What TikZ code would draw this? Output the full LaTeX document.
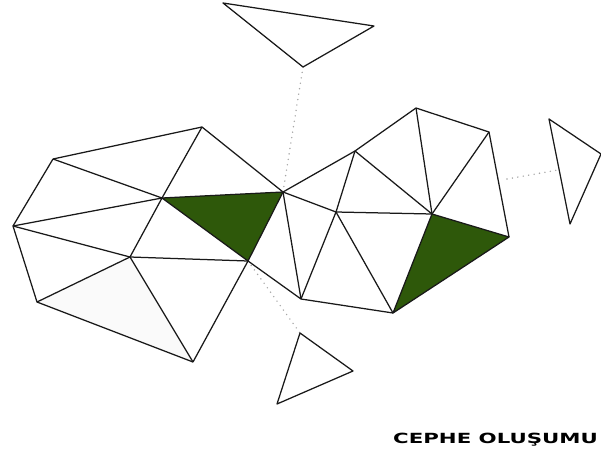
\documentclass[tikz,border=0pt]{standalone}
\usepackage{fontspec}
\usepackage{graphicx}
\newfontfamily\titlefont{DejaVu Sans}
\definecolor{leafgreen}{RGB}{46,88,10}
\begin{document}
\begin{tikzpicture}[x=1pt,y=-1pt,
  edge/.style={draw=black!90,line width=1.25pt,line join=round},
  greenface/.style={fill=leafgreen,draw=black!90,line width=1.25pt,line join=round},
  dotline/.style={draw=black!35,line width=1.6pt,line cap=round,dash pattern=on 0pt off 5.5pt},
  floattri/.style={draw=black!90,line width=1.25pt,line join=round,fill=white}]
\useasboundingbox[fill=white] (0,0) rectangle (601,455);
% left cluster
\coordinate (A) at (202,127);
\coordinate (B) at (53,159);
\coordinate (C) at (13,226);
\coordinate (D) at (37,302);
\coordinate (E) at (162,198);
\coordinate (F) at (283,192);
\coordinate (G) at (130,257);
\coordinate (H) at (248,261);
\coordinate (I) at (193,362);
% right cluster
\coordinate (J) at (301,299);
\coordinate (K) at (355,151);
\coordinate (L) at (416,108);
\coordinate (M) at (489,132);
\coordinate (N) at (336,212);
\coordinate (O) at (432,214);
\coordinate (P) at (509,237);
\coordinate (Q) at (393,313);
% floating triangles
\coordinate (T1) at (223,3);
\coordinate (T2) at (374,26);
\coordinate (T3) at (303,67);
\coordinate (R1) at (549,119);
\coordinate (R2) at (601,154);
\coordinate (R3) at (570,224);
\coordinate (S1) at (300,333);
\coordinate (S2) at (353,371);
\coordinate (S3) at (277,404);
\coordinate (dm) at (507,179);
\coordinate (dr) at (558,170);
% light face
\fill[black!2] (D) -- (G) -- (I) -- cycle;
% dotted links
\draw[dotline] (T3) -- (F);
\draw[dotline] (H) -- (S1);
\draw[dotline] (dm) -- (dr);
% green faces
\path[greenface] (E) -- (F) -- (H) -- cycle;
\path[greenface] (O) -- (P) -- (Q) -- cycle;
% edges left
\draw[edge] (B) -- (A) -- (F);
\draw[edge] (A) -- (E);
\draw[edge] (B) -- (E);
\draw[edge] (B) -- (C) -- (D) -- (I);
\draw[edge] (C) -- (E);
\draw[edge] (C) -- (G);
\draw[edge] (E) -- (G);
\draw[edge] (G) -- (H);
\draw[edge] (G) -- (D);
\draw[edge] (G) -- (I);
\draw[edge] (H) -- (I);
\draw[edge] (H) -- (J);
\draw[edge] (F) -- (J);
% edges right
\draw[edge] (F) -- (K) -- (L) -- (M) -- (P);
\draw[edge] (F) -- (N);
\draw[edge] (K) -- (N);
\draw[edge] (K) -- (O);
\draw[edge] (L) -- (O);
\draw[edge] (M) -- (O);
\draw[edge] (N) -- (O);
\draw[edge] (N) -- (J);
\draw[edge] (N) -- (Q);
\draw[edge] (J) -- (Q);
% floating
\draw[floattri] (T1) -- (T2) -- (T3) -- cycle;
\draw[floattri] (R1) -- (R2) -- (R3) -- cycle;
\draw[floattri] (S1) -- (S2) -- (S3) -- cycle;
% title
\node[anchor=west,inner sep=0pt] (title) at (393,440)
  {\scalebox{1.52}[1]{\titlefont\bfseries\fontsize{14}{14}\selectfont CEPHE OLU\c{S}UMU}};
\end{tikzpicture}
\end{document}
